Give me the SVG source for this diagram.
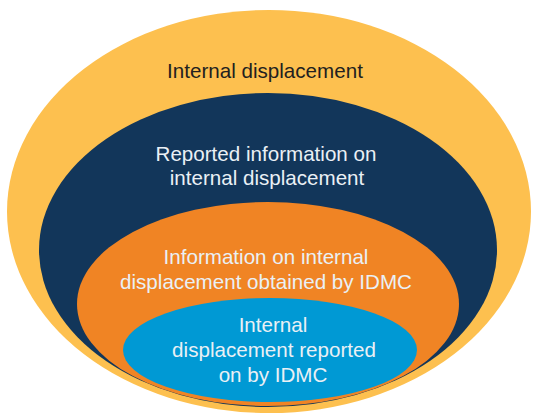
<svg xmlns="http://www.w3.org/2000/svg" width="533" height="414" viewBox="0 0 533 414">
<style>
text{font-family:"Liberation Sans",Arial,sans-serif;font-size:20.6px;text-anchor:middle}
.dark{fill:#231F20}
.light{fill:#EAF0F5}
</style>
<rect width="533" height="414" fill="#FFFFFF"/>
<g id="internal-displacement">
<ellipse cx="269" cy="211.5" rx="262" ry="201.5" fill="#FDC04F"/>
<text class="dark" x="265" y="78">Internal displacement</text>
</g>
<g id="reported-information">
<ellipse cx="268" cy="250" rx="229" ry="157" fill="#12365A"/>
<text class="light" x="266" y="161">Reported information on</text>
<text class="light" x="267" y="185">internal displacement</text>
</g>
<g id="information-obtained">
<ellipse cx="268" cy="304" rx="191" ry="102" fill="#F08424"/>
<text class="light" x="266" y="264">Information on internal</text>
<text class="light" x="266" y="289">displacement obtained by IDMC</text>
</g>
<g id="reported-on-by-idmc">
<ellipse cx="270" cy="350" rx="147" ry="52" fill="#0099D4"/>
<text class="light" x="273" y="332">Internal</text>
<text class="light" x="274" y="357">displacement reported</text>
<text class="light" x="273" y="382">on by IDMC</text>
</g>
</svg>
